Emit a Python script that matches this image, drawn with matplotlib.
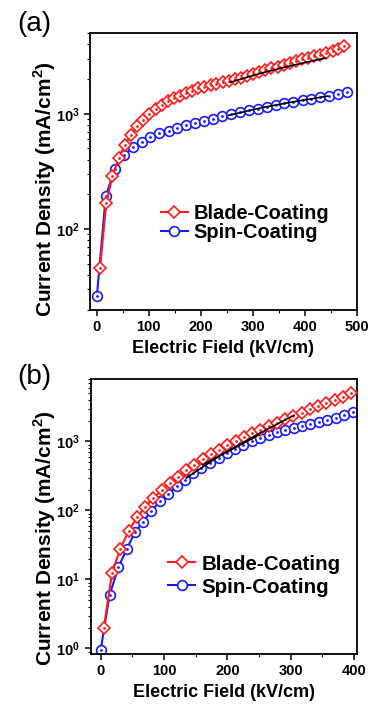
import math
import matplotlib.pyplot as plt
from matplotlib.ticker import LogLocator, FuncFormatter, NullFormatter, MultipleLocator

plt.rcParams['font.family'] = ['Liberation Sans', 'DejaVu Sans']
plt.rcParams['mathtext.fontset'] = 'custom'
plt.rcParams['mathtext.rm'] = 'Liberation Sans:bold'
plt.rcParams['mathtext.bf'] = 'Liberation Sans:bold'

# panel (a)
a_blade_x = [6, 18, 30, 42, 54, 66, 78, 89, 101, 113, 125, 136, 148, 160, 172, 183, 195, 207,
             219, 230, 242, 254, 266, 277, 289, 301, 313, 324, 336, 348, 360, 371, 383, 395,
             407, 418, 430, 442, 454, 465, 476]
a_blade_y = [46, 168, 290, 410, 535, 660, 780, 880, 1000, 1100, 1200, 1280, 1360, 1430, 1500,
             1580, 1660, 1720, 1770, 1820, 1870, 1920, 1990, 2060, 2140, 2220, 2310, 2400,
             2480, 2560, 2650, 2740, 2870, 2970, 3060, 3150, 3250, 3350, 3480, 3650, 3830]
a_spin_x = [0, 17, 34, 52, 69, 86, 103, 120, 138, 155, 172, 189, 206, 224, 241, 258, 275, 292,
            310, 327, 344, 361, 378, 396, 413, 430, 447, 464, 481]
a_spin_y = [26.5, 192, 330, 435, 510, 570, 630, 675, 715, 755, 800, 835, 870, 905, 950, 1000,
            1030, 1070, 1110, 1150, 1190, 1230, 1270, 1310, 1355, 1395, 1430, 1490, 1540]
a_fit_blade_x = [257, 320, 380, 440]
a_fit_blade_y = [1875, 2270, 2650, 3040]
a_fit_spin_x = [253, 320, 385, 444]
a_fit_spin_y = [967, 1135, 1285, 1420]

# panel (b)
b_blade_x = [5, 18, 31, 44, 57, 70, 83, 96, 109, 122, 135, 148, 161, 174, 187, 200, 213, 226,
             239, 252, 265, 278, 291, 304, 317, 330, 343, 356, 369, 382, 395]
b_blade_y = [2.0, 12.5, 28, 50, 79, 112, 150, 195, 250, 310, 380, 460, 550, 650, 760, 880,
             1010, 1150, 1310, 1480, 1670, 1880, 2100, 2350, 2620, 2920, 3250, 3600, 4000,
             4450, 5000]
b_spin_x = [0, 14, 28, 41, 54, 67, 80, 93, 107, 120, 133, 146, 159, 173, 186, 199, 212, 225,
            239, 252, 265, 278, 291, 305, 318, 331, 344, 357, 371, 384, 398]
b_spin_y = [0.95, 5.9, 15, 27.5, 48, 69, 98, 135, 175, 225, 280, 345, 410, 490, 580, 680, 780,
            890, 1000, 1110, 1230, 1350, 1470, 1580, 1690, 1800, 1920, 2060, 2200, 2400, 2650]
b_fit1_x = [135, 190, 250, 305]
b_fit1_y = [295, 640, 1300, 2400]
b_fit2_x = [161, 205, 250]
b_fit2_y = [460, 750, 1250]

RED = '#ff1a1a'
BLUE = '#1a1aff'


def draw(ax, bx, by, sx, sy, fits, xlim, ylim, xticks, leg_anchor, leg_size, leg_space, ylab_pos):
    ax.plot(bx, by, color=RED, lw=1.5, marker='D', ms=6, mfc='white', mec=RED, mew=1.2,
            label='Blade-Coating', zorder=3)
    ax.plot(bx, by, ls='none', marker='.', ms=2, color=RED, zorder=4)
    ax.plot(sx, sy, color=BLUE, lw=1.5, marker='o', ms=7, mfc='white', mec=BLUE, mew=1.2,
            label='Spin-Coating', zorder=2)
    ax.plot(sx, sy, ls='none', marker='.', ms=2, color=BLUE, zorder=2.5)
    for fx, fy in fits:
        ax.plot(fx, fy, color='black', lw=1.2, zorder=5)
    ax.set_yscale('log')
    ax.set_xlim(*xlim)
    ax.set_ylim(*ylim)
    ax.set_xticks(xticks)
    ax.set_xticklabels([str(t) for t in xticks], fontweight='bold', fontsize=10.5)
    ax.xaxis.set_minor_locator(MultipleLocator(50))
    ax.yaxis.set_major_locator(LogLocator(base=10))
    ax.yaxis.set_minor_locator(LogLocator(base=10, subs=range(2, 10)))
    ax.yaxis.set_major_formatter(FuncFormatter(lambda v, p: r'$\mathbf{10^{%d}}$' % round(math.log10(v))))
    ax.yaxis.set_minor_formatter(NullFormatter())
    ax.tick_params(axis='both', which='major', direction='out', length=4, width=1.1,
                   top=False, right=False, labelsize=10.5)
    ax.tick_params(axis='both', which='minor', direction='out', length=2.5, width=0.8,
                   top=False, right=False)
    for s in ax.spines.values():
        s.set_linewidth(1.3)
    ax.set_xlabel('Electric Field (kV/cm)', fontsize=13, fontweight='bold', labelpad=4)
    ax.set_ylabel('Current Density (mA/cm$^{\\mathbf{2}}$)', fontsize=15, fontweight='bold')
    ax.yaxis.set_label_coords(*ylab_pos)
    ax.legend(loc='center left', bbox_to_anchor=leg_anchor, frameon=False,
              borderpad=0, borderaxespad=0,
              handlelength=1.35, handletextpad=0.3, labelspacing=leg_space,
              prop={'weight': 'bold', 'size': leg_size})


fig = plt.figure(figsize=(3.68, 7.04), dpi=100)
ax1 = fig.add_axes([0.245, 0.560, 0.724, 0.393])
ax2 = fig.add_axes([0.246, 0.071, 0.725, 0.391])

draw(ax1, a_blade_x, a_blade_y, a_spin_x, a_spin_y,
     [(a_fit_blade_x, a_fit_blade_y), (a_fit_spin_x, a_fit_spin_y)],
     (-13, 500), (20, 5000), [0, 100, 200, 300, 400, 500], (0.265, 0.314), 14.4, 0.0,
     (-0.12, 0.437))
draw(ax2, b_blade_x, b_blade_y, b_spin_x, b_spin_y,
     [(b_fit1_x, b_fit1_y), (b_fit2_x, b_fit2_y)],
     (-16, 405), (0.83, 8100), [0, 100, 200, 300, 400], (0.289, 0.285), 14.8, 0.2,
     (-0.122, 0.42))

fig.text(0.046, 0.966, '(a)', fontsize=20, va='center', ha='left')
fig.text(0.046, 0.465, '(b)', fontsize=20, va='center', ha='left')

fig.savefig('out.png', dpi=100)
